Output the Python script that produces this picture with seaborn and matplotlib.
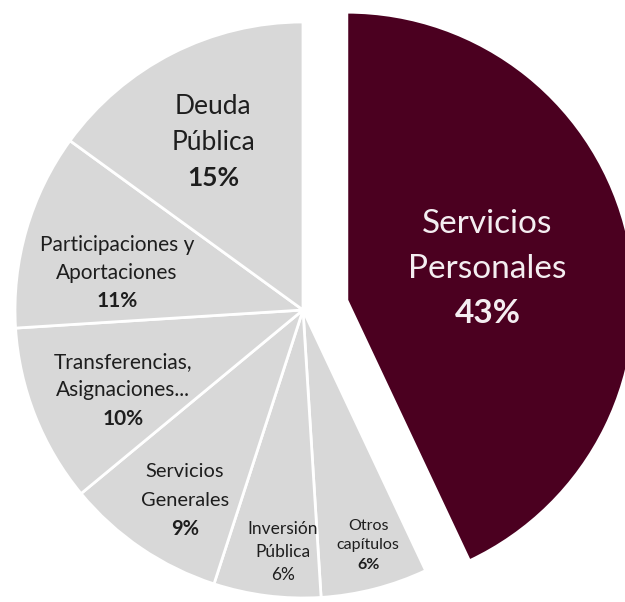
import numpy as np
import matplotlib
matplotlib.use("Agg")
import matplotlib.pyplot as plt
import seaborn as sns

# data
categories = ["Servicios\nPersonales", "Otros\ncapítulos", "Inversión\nPública",
              "Servicios\nGenerales", "Transferencias,\nAsignaciones...",
              "Participaciones y\nAportaciones", "Deuda\nPública"]
shares = [43, 6, 6, 9, 10, 11, 15]

# styling per slice
colors = ["#4b0020"] + ["#d8d8d8"] * 6
explode = [0.156, 0, 0, 0, 0, 0, 0]
label_r = [0.50, 0.847, 0.843, 0.777, 0.684, 0.659, 0.661]
label_nudge = [0, 1.1, 2.5, 2.4, 2.4, 5.0, 1.2]
font_sizes = [24, 11.5, 12.5, 14.4, 15, 15, 19]
line_steps = [32, 14, 16.5, 21, 20.5, 20, 25.5]
pct_bold = [True, True, False, True, True, True, True]
text_colors = ["#f4eef1"] + ["#1e1e1e"] * 6

sns.set_theme(style="white")
plt.rcParams["font.family"] = ["Lato", "DejaVu Sans"]

fig = plt.figure(figsize=(6.25, 6.02), dpi=100)
ax = fig.add_axes([0, 0, 1, 1])

wedges, _ = ax.pie(shares, colors=colors, explode=explode, startangle=90,
                   counterclock=False, radius=1.0,
                   wedgeprops=dict(edgecolor="white", linewidth=2))

for i, w in enumerate(wedges):
    mid = np.deg2rad((w.theta1 + w.theta2) / 2 + label_nudge[i])
    cx, cy = w.center
    x = cx + label_r[i] * np.cos(mid)
    y = cy + label_r[i] * np.sin(mid)
    lines = categories[i].split("\n") + [f"{shares[i]}%"]
    for j, line in enumerate(lines):
        is_pct = j == len(lines) - 1
        weight = "bold" if (is_pct and pct_bold[i]) else "normal"
        ax.annotate(line, xy=(x, y), xytext=(0, (1 - j) * line_steps[i]),
                    textcoords="offset points", ha="center", va="center",
                    fontsize=font_sizes[i], color=text_colors[i], fontweight=weight)

ax.set_xlim(-303 / 288, 322 / 288)
ax.set_ylim(-292 / 288, 310 / 288)
ax.set_aspect("auto")
ax.axis("off")

fig.savefig("out.png", dpi=100, facecolor="white")
